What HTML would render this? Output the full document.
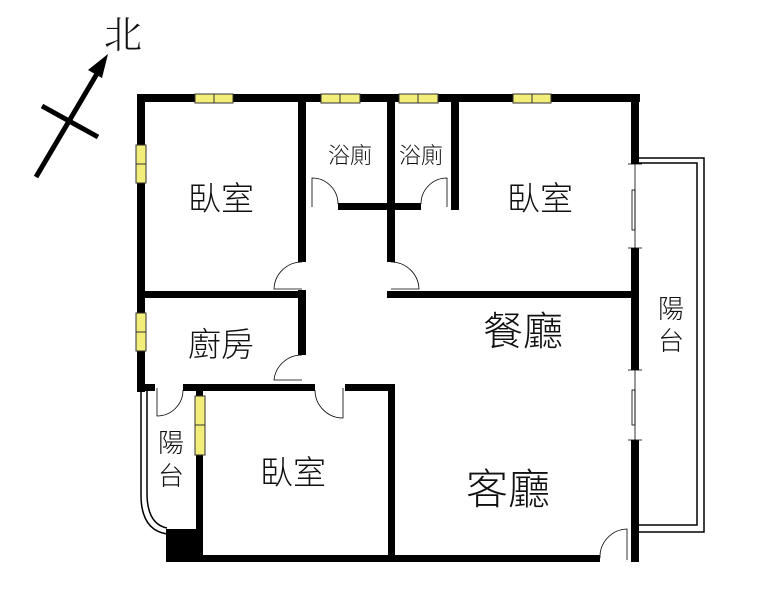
<!DOCTYPE html>
<html><head><meta charset="utf-8"><style>
html,body{margin:0;padding:0;background:#fff;}
svg{display:block}
text{font-family:"Liberation Sans","Noto Sans CJK TC","WenQuanYi Zen Hei",sans-serif;fill:#111;font-weight:300;}
</style></head><body>
<svg width="774" height="594" viewBox="0 0 774 594" xmlns="http://www.w3.org/2000/svg">
<rect width="774" height="594" fill="#fff"/>
<!-- compass -->
<line x1="36" y1="177" x2="98" y2="72" stroke="#000" stroke-width="5"/>
<polygon points="108,54 88,70 102,78" fill="#000"/>
<line x1="42" y1="106" x2="98" y2="137" stroke="#000" stroke-width="5"/>
<text x="104" y="48" font-size="38" style="font-family:'Noto Serif CJK SC',serif">北</text>

<g fill="none" stroke="#000" stroke-width="1.5">
<polyline points="636,158 704,158 704,532 636,532"/>
<polyline points="636,163 697,163 697,525 636,525"/>
<path d="M141,390 L141,495 Q141,530 167,534"/>
<path d="M147,390 L147,493 Q147,524 167,528"/>
</g>

<g fill="#000">
<rect x="137" y="94" width="503" height="8"/>
<rect x="137" y="94" width="8" height="298"/>
<rect x="631" y="94" width="8" height="70"/>
<rect x="631" y="248" width="8" height="122"/>
<rect x="631" y="440" width="8" height="122"/>
<rect x="166" y="555" width="434" height="7"/>
<rect x="166" y="529" width="34" height="33"/>
<rect x="298" y="98" width="8" height="164"/>
<rect x="298" y="290" width="8" height="65"/>
<rect x="387" y="98" width="8" height="164"/>
<rect x="451" y="98" width="8" height="112"/>
<rect x="338" y="203" width="83" height="7"/>
<rect x="141" y="291" width="165" height="7"/>
<rect x="387" y="291" width="248" height="7"/>
<rect x="137" y="384" width="18" height="7"/>
<rect x="183" y="384" width="132" height="7"/>
<rect x="345" y="384" width="50" height="7"/>
<rect x="388" y="384" width="7" height="176"/>
<rect x="196" y="384" width="7" height="176"/>
</g>

<g fill="none" stroke="#000" stroke-width="0.8">
<line x1="635" y1="164" x2="635" y2="248"/>
<rect x="632" y="190" width="3" height="40"/>
<line x1="635" y1="370" x2="635" y2="440"/>
<rect x="632" y="390" width="3" height="35"/>
<line x1="628" y1="164" x2="642" y2="164"/>
<line x1="628" y1="248" x2="642" y2="248"/>
<line x1="628" y1="370" x2="642" y2="370"/>
<line x1="628" y1="440" x2="642" y2="440"/>
</g>

<g fill="#f3ee7a" stroke="#333" stroke-width="1">
<rect x="195" y="94" width="38" height="9"/><line x1="214" y1="94" x2="214" y2="103"/>
<rect x="321" y="94" width="39" height="9"/><line x1="340" y1="94" x2="340" y2="103"/>
<rect x="399" y="94" width="39" height="9"/><line x1="418" y1="94" x2="418" y2="103"/>
<rect x="513" y="94" width="38" height="9"/><line x1="532" y1="94" x2="532" y2="103"/>
<rect x="136" y="145" width="10" height="38"/><line x1="136" y1="164" x2="146" y2="164"/>
<rect x="136" y="313" width="10" height="38"/><line x1="136" y1="332" x2="146" y2="332"/>
<rect x="195" y="396" width="10" height="59"/><line x1="195" y1="425" x2="205" y2="425"/>
</g>

<g fill="none" stroke="#000" stroke-width="0.8">
<path d="M312,207 L312,178 A26,26 0 0 1 338,204"/>
<path d="M447,207 L447,178 A26,26 0 0 0 421,204"/>
<path d="M302,262 A28,28 0 0 0 274,289 L302,289"/>
<path d="M391,262 A28,28 0 0 1 419,289 L391,289"/>
<path d="M302,355 A28,28 0 0 0 274,380 L302,380"/>
<path d="M157,388 L157,416 A26,26 0 0 0 183,390"/>
<path d="M343,388 L343,418 A28,28 0 0 1 315,390"/>
<path d="M627,560 L627,529 A28,28 0 0 0 600,558"/>
</g>

<text x="188" y="210" font-size="33">臥室</text>
<text x="328" y="163" font-size="22">浴廁</text>
<text x="399" y="163" font-size="22">浴廁</text>
<text x="507" y="210" font-size="33">臥室</text>
<text x="188" y="356" font-size="33">廚房</text>
<text x="483" y="345" font-size="40">餐廳</text>
<text x="658" y="318" font-size="26">陽</text>
<text x="658" y="350" font-size="26">台</text>
<text x="158" y="452" font-size="26">陽</text>
<text x="158" y="485" font-size="26">台</text>
<text x="260" y="484" font-size="33">臥室</text>
<text x="466" y="504" font-size="42">客廳</text>
</svg>
</body></html>
